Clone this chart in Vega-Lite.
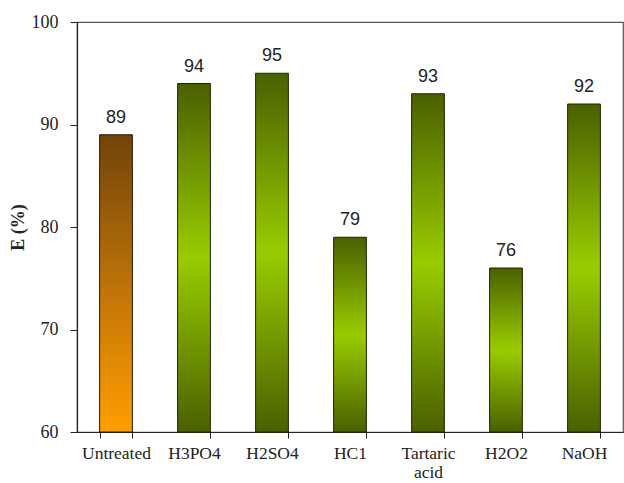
{
  "$schema": "https://vega.github.io/schema/vega-lite/v6.json",
  "autosize": {"type": "none"},
  "padding": {"left": 77, "top": 22, "right": 1, "bottom": 51},
  "width": 546,
  "height": 410,
  "background": "white",
  "config": {
    "view": {"stroke": "#555", "strokeWidth": 1.2},
    "axis": {"domainColor": "#222", "tickColor": "#222", "labelColor": "#222", "titleColor": "#222", "grid": false}
  },
  "data": {"values": [
    {"cat": "Untreated", "E": 89},
    {"cat": "H3PO4", "E": 94},
    {"cat": "H2SO4", "E": 95},
    {"cat": "HC1", "E": 79},
    {"cat": "Tartaric acid", "E": 93},
    {"cat": "H2O2", "E": 76},
    {"cat": "NaOH", "E": 92}
  ]},
  "encoding": {
    "x": {
      "field": "cat", "type": "nominal", "sort": null,
      "scale": {"paddingInner": 0.58, "paddingOuter": 0.29},
      "axis": {
        "title": null, "labelAngle": 0, "tickBand": "extent", "tickSize": 6,
        "labelFont": "Liberation Serif", "labelFontSize": 17.5, "labelPadding": 6,
        "labelExpr": "datum.label == 'Tartaric acid' ? ['Tartaric', 'acid'] : datum.label",
        "labelLineHeight": 19, "domainWidth": 1.2
      }
    },
    "y": {
      "field": "E", "type": "quantitative",
      "scale": {"domain": [60, 100], "nice": false, "zero": false},
      "axis": {
        "title": "E (%)", "values": [60, 70, 80, 90, 100], "tickSize": 7,
        "labelFont": "Liberation Serif", "labelFontSize": 18, "labelPadding": 12,
        "titleFont": "Liberation Serif", "titleFontSize": 18, "titleFontWeight": "bold",
        "titlePadding": 4, "domainWidth": 1.2
      }
    }
  },
  "layer": [
    {
      "transform": [{"filter": "datum.cat === 'Untreated'"}],
      "mark": {
        "type": "bar", "stroke": "#2a1a00", "strokeWidth": 1,
        "fill": {"x1": 0, "y1": 0, "x2": 0, "y2": 1, "gradient": "linear",
          "stops": [{"offset": 0, "color": "#704408"}, {"offset": 0.5, "color": "#bd7208"}, {"offset": 1, "color": "#ff9e00"}]}
      },
      "encoding": {"y2": {"datum": 60}}
    },
    {
      "transform": [{"filter": "datum.cat !== 'Untreated'"}],
      "mark": {
        "type": "bar", "stroke": "#1e2600", "strokeWidth": 1,
        "fill": {"x1": 0, "y1": 0, "x2": 0, "y2": 1, "gradient": "linear",
          "stops": [{"offset": 0, "color": "#4a6000"}, {"offset": 0.5, "color": "#99cc00"}, {"offset": 1, "color": "#4a6000"}]}
      },
      "encoding": {"y2": {"datum": 60}}
    },
    {
      "mark": {"type": "text", "baseline": "alphabetic", "dy": -12, "font": "Liberation Sans", "fontSize": 18, "color": "#222"},
      "encoding": {"text": {"field": "E", "type": "quantitative"}}
    }
  ]
}
